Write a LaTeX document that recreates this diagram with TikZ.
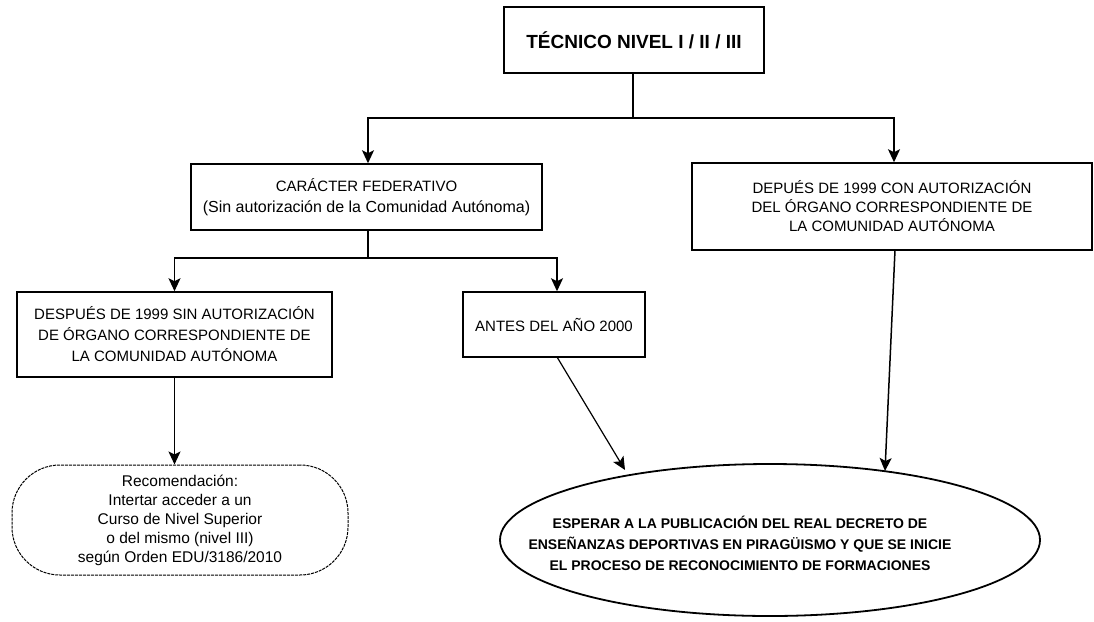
\documentclass[tikz,border=0pt]{standalone}
\usepackage{fontspec}
\setmainfont{Liberation Sans}
\usetikzlibrary{arrows.meta,shapes.geometric}
\tikzset{
  box/.style={draw=black, line width=1.5pt, align=center, inner sep=0pt, font=\fontsize{15}{21}\selectfont},
  conn/.style={draw=black, line width=1.5pt},
  arr/.style={conn, -{Stealth[length=13pt,width=12pt,inset=3pt]}},
}
\begin{document}
\begin{tikzpicture}[x=1pt,y=-1pt]
\useasboundingbox (0,0) rectangle (1094,621);
\fill[white] (0,0) rectangle (1094,621);

\node[box, minimum width=260pt, minimum height=66pt, font=\fontsize{19}{22}\selectfont\bfseries] (top) at (634,40) {TÉCNICO NIVEL I / II / III};

\node[box, minimum width=351pt, minimum height=66pt] (car) at (366.5,197)
  {CARÁCTER FEDERATIVO\\{\fontsize{16}{21}\selectfont (Sin autorización de la Comunidad Autónoma)}};

\node[box, minimum width=400pt, minimum height=87pt, font=\fontsize{15}{19}\selectfont] (dcon) at (892,206.5)
  {DEPUÉS DE 1999 CON AUTORIZACIÓN\\DEL ÓRGANO CORRESPONDIENTE DE\\LA COMUNIDAD AUTÓNOMA};

\node[box, minimum width=315pt, minimum height=85pt] (dsin) at (174.5,334.5)
  {DESPUÉS DE 1999 SIN AUTORIZACIÓN\\DE ÓRGANO CORRESPONDIENTE DE\\LA COMUNIDAD AUTÓNOMA};

\node[box, minimum width=182pt, minimum height=65pt] (antes) at (554,324.5) {ANTES DEL AÑO 2000};

\node[box, line width=1pt, dash pattern=on 3pt off 1pt, rounded corners=48pt, minimum width=336pt, minimum height=110pt, font=\fontsize{15.5}{19}\selectfont] (rec) at (180,520)
  {Recomendación:\\Intertar acceder a un\\Curso de Nivel Superior\\o del mismo (nivel III)\\según Orden EDU/3186/2010};

\node[draw=black, line width=1.8pt, ellipse, minimum width=540pt, minimum height=152pt, inner sep=0pt] (ell) at (770,540) {};
\node[align=center, inner sep=0pt, font=\fontsize{14}{21}\selectfont\bfseries] (elltext) at (740,543)
  {ESPERAR A LA PUBLICACIÓN DEL REAL DECRETO DE\\ENSEÑANZAS DEPORTIVAS EN PIRAGÜISMO Y QUE SE INICIE\\EL PROCESO DE RECONOCIMIENTO DE FORMACIONES};

\coordinate (j1) at (633,118);
\coordinate (hl) at (368,118);
\coordinate (hr) at (894,118);
\coordinate (j2) at (368,258);
\coordinate (e1) at (625,470);
\coordinate (e2) at (885,471);
\coordinate (d1) at (895,250);
\coordinate (a1) at (557,357);

\draw[conn] (top.south -| j1) -- (j1);
\draw[arr] (j1) -- (hl) -- (hl |- car.north);
\draw[arr] (j1) -- (hr) -- (hr |- dcon.north);
\draw[conn] (car.south -| j2) -- (j2);
\draw[arr] (j2) -| (dsin.north);
\draw[arr] (j2) -| ([xshift=3pt]antes.north);
\draw[arr] (dsin.south) -- (dsin.south |- rec.north);
\draw[arr, line width=1.2pt] (a1) -- (e1);
\draw[arr] (d1) -- (e2);
\end{tikzpicture}
\end{document}
